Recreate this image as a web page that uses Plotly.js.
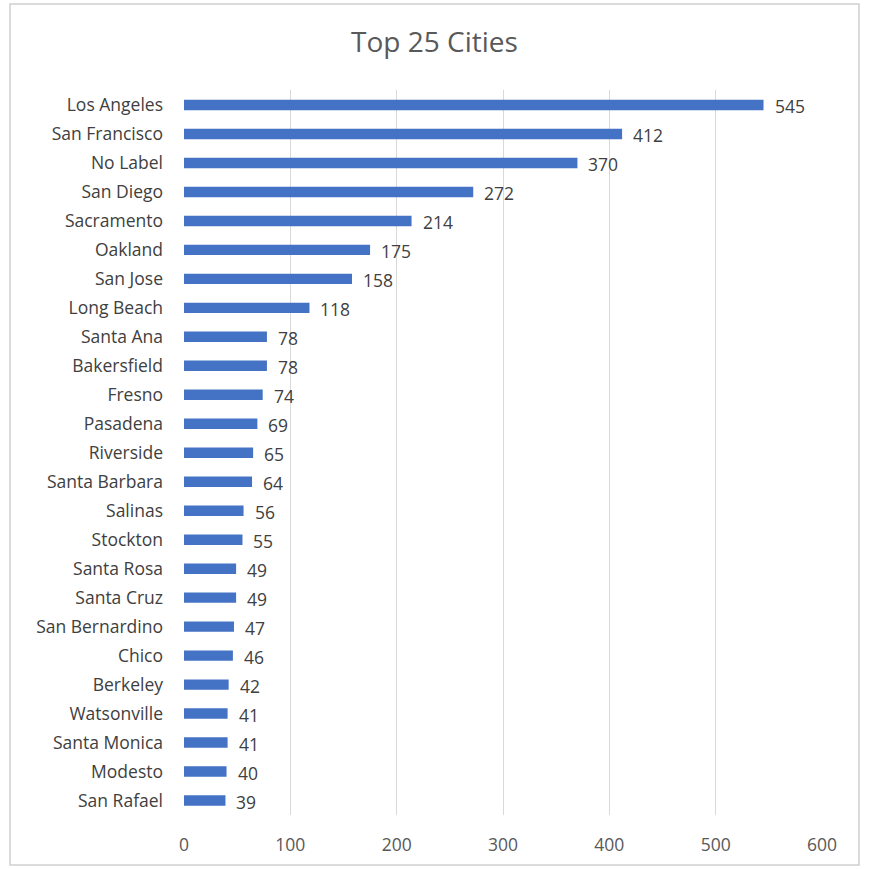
<!DOCTYPE html>
<html><head><meta charset="utf-8">
<script src="https://cdn.plot.ly/plotly-3.0.1.min.js"></script>
<style>body{margin:0;background:#fff}#c{width:869px;height:869px}</style>
</head><body><div id="c"></div>
<script>
const cities = ["Los Angeles","San Francisco","No Label","San Diego","Sacramento","Oakland","San Jose","Long Beach","Santa Ana","Bakersfield","Fresno","Pasadena","Riverside","Santa Barbara","Salinas","Stockton","Santa Rosa","Santa Cruz","San Bernardino","Chico","Berkeley","Watsonville","Santa Monica","Modesto","San Rafael"];
const counts = [545,412,370,272,214,175,158,118,78,78,74,69,65,64,56,55,49,49,47,46,42,41,41,40,39];
const xTicks = [0,100,200,300,400,500,600];

const font = "Open Sans, Noto Sans, sans-serif";
const valueLabels = cities.map((c, i) => ({
  x: counts[i], y: c, xref: "x", yref: "y", text: String(counts[i]),
  showarrow: false, xanchor: "left", yanchor: "middle", xshift: 9, yshift: -1,
  font: {family: font, size: 17.5, color: "#404040"}
}));
Plotly.newPlot("c", [{
  type: "bar", orientation: "h",
  y: cities, x: counts,
  marker: {color: "#4472C4"},
  width: 0.36,
  hoverinfo: "x+y"
}], {
  width: 869, height: 869,
  paper_bgcolor: "#fff", plot_bgcolor: "#fff",
  margin: {l: 184, r: 47, t: 90, b: 54},
  title: {text: "Top 25 Cities", x: 0.5, xanchor: "center", y: 0.952, yanchor: "middle",
          font: {family: font, size: 28, color: "#595959"}},
  xaxis: {range: [0, 600], tickvals: xTicks, ticktext: xTicks.map(String),
          showgrid: true, gridcolor: "#d9d9d9", gridwidth: 1, zeroline: false,
          showline: false, ticks: "", ticklabelstandoff: 17,
          tickfont: {family: font, size: 17.5, color: "#595959"}},
  yaxis: {autorange: "reversed", type: "category", showgrid: false, zeroline: false,
          showline: false, ticks: "", ticklabelstandoff: 20,
          tickfont: {family: font, size: 17.5, color: "#404040"}},
  showlegend: false,
  annotations: valueLabels,
  shapes: [{type: "rect", xref: "paper", yref: "paper",
            x0: -174/638, x1: (859-184)/638, y0: -50/725, y1: (815-4)/725,
            line: {color: "#d0d0d0", width: 1.5}, fillcolor: "rgba(0,0,0,0)"}]
}, {displayModeBar: false, staticPlot: true});
</script></body></html>
